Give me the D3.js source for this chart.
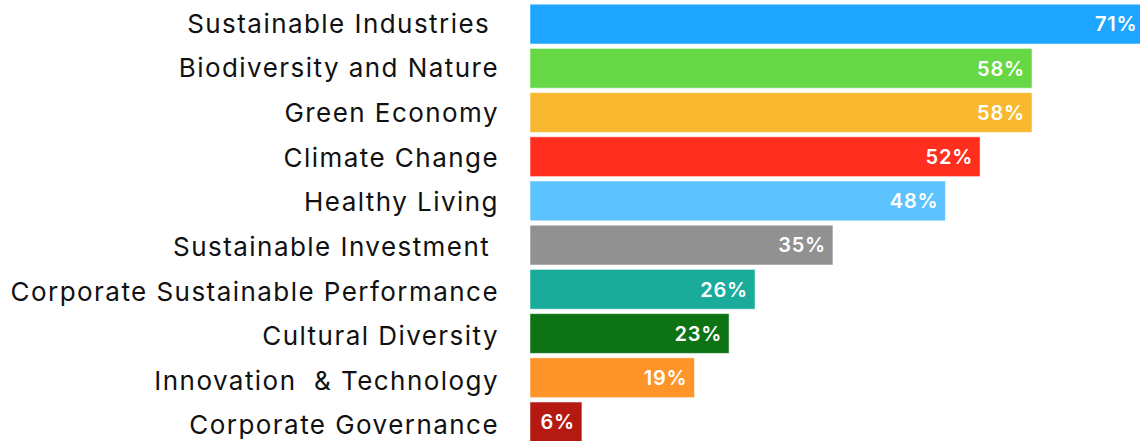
<!DOCTYPE html>
<html>
<head>
<meta charset="utf-8">
<script src="https://cdn.jsdelivr.net/npm/d3@7"></script>
<style>
  html, body { margin: 0; padding: 0; background: #fff; overflow: hidden; }
  svg { display: block; }
  text { font-family: Inter, 'Noto Sans', sans-serif; white-space: pre; }
</style>
</head>
<body>
<div id="chart"></div>
<script>
let categories = [
  'Sustainable Industries ',
  'Biodiversity and Nature',
  'Green Economy',
  'Climate Change',
  'Healthy Living',
  'Sustainable Investment ',
  'Corporate Sustainable Performance',
  'Cultural Diversity',
  'Innovation  & Technology',
  'Corporate Governance'
]
let values = [71, 58, 58, 52, 48, 35, 26, 23, 19, 6]
let colors = ['#1ea5ff', '#66d846', '#f8b830', '#ff2e1f', '#5cc3ff', '#919191', '#1aab9b', '#0e7315', '#ff9428', '#b51a12']

let width = 1140
let height = 441

let data = categories.map((c, i) => ({ name: c, value: values[i], color: colors[i] }))

let svg = d3.select('#chart').append('svg').attr('width', width).attr('height', height)

let x = d3.scaleLinear().domain([0, 100]).range([530, 530 + 865.5])
let y = d3.scaleBand().domain(categories).range([2, 444]).paddingInner(0.1).paddingOuter(0.05)
// the category labels sit on a slightly wider pitch than the bars
let yLabel = d3.scalePoint().domain(categories).range([23.5, 425])

svg.append('g').selectAll('rect')
    .data(data)
    .enter().append('rect')
      .attr('x', x(0))
      .attr('y', (d) => y(d.name))
      .attr('width', (d) => x(d.value) - x(0))
      .attr('height', y.bandwidth())
      .attr('fill', (d) => d.color)
      .attr('stroke', 'rgba(255,255,255,0.5)')
      .attr('stroke-width', 1)

svg.append('g').selectAll('text')
    .data(data)
    .enter().append('text')
      .attr('x', 499)
      .attr('y', (d) => yLabel(d.name))
      .attr('dy', '0.36em')
      .attr('text-anchor', 'end')
      .attr('font-size', 26)
      .attr('letter-spacing', 1.45)
      .attr('fill', '#111')
      .text((d) => d.name)

svg.append('g').selectAll('text')
    .data(data)
    .enter().append('text')
      .attr('x', (d) => x(d.value) - 7)
      .attr('y', (d) => y(d.name) + y.bandwidth() / 2)
      .attr('dy', '0.36em')
      .attr('text-anchor', 'end')
      .attr('font-size', 20)
      .attr('font-weight', 600)
      .attr('letter-spacing', 0.8)
      .attr('fill', '#fff')
      .text((d) => d.value + '%')
</script>
</body>
</html>
